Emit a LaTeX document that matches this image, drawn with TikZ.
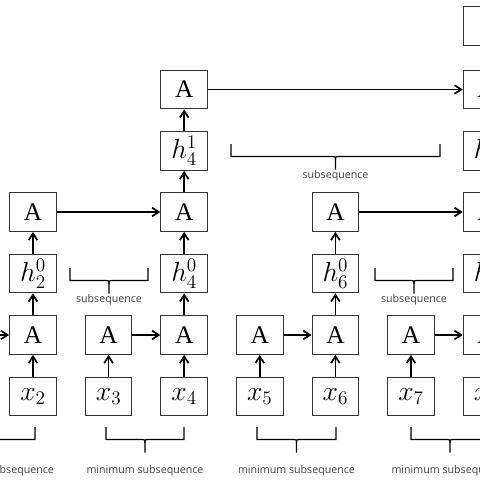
\documentclass[tikz,border=0pt]{standalone}
\usepackage{fontspec}
\setmainfont{Liberation Serif}
\newfontfamily\lblfont{Open Sans}
\usetikzlibrary{arrows.meta}
\tikzset{
  box/.style={rectangle, draw=black!80, line width=0.8pt, minimum width=35pt, minimum height=29pt, inner sep=0pt, font=\fontsize{19}{22}\selectfont},
  vbox/.style={box, font=\fontsize{21}{24}\selectfont},
  line/.style={-{Straight Barb[length=5pt,width=6.5pt]}, line width=1.3pt},
  brc/.style={line width=0.9pt},
  lbl/.style={font=\lblfont\fontsize{8}{10}\selectfont, text=black!75, inner sep=0pt, anchor=base}
}
% brace under a span: left x, right x, top y
\newcommand{\seqbrace}[3]{%
  \draw[brc] (#1,#3) |- ({(#1+#2)/2-3},#3+12.5) .. controls ({(#1+#2)/2},#3+12.5) .. ({(#1+#2)/2},#3+16) -- ({(#1+#2)/2},#3+25.5);
  \draw[brc] (#2,#3) |- ({(#1+#2)/2+3},#3+12.5) .. controls ({(#1+#2)/2},#3+12.5) .. ({(#1+#2)/2},#3+16);}

\begin{document}
\begin{tikzpicture}[x=0.75pt, y=-0.75pt]
  \clip (0,0) rectangle (480,480);
  % inputs and first layer
  \foreach \i in {1,...,8} {
    \node[vbox] (x\i) at ({33+75.6*(\i-2)},396.5) {$x_{\i}$};
    \node[box] (ao\i) at ({33+75.6*(\i-2)},335) {A};
    \draw[line] (x\i) -- (ao\i);
  }
  \foreach \i/\j in {1/2,3/4,5/6,7/8}
    \draw[line] (ao\i) -- (ao\j);
  % second layer
  \foreach \i in {2,4,6,8} {
    \node[vbox] (hz\i) at ({33+75.6*(\i-2)},273.5) {$h_{\i}^{0}$};
    \node[box] (at\i) at ({33+75.6*(\i-2)},212) {A};
    \draw[line] (ao\i) -- (hz\i);
    \draw[line] (hz\i) -- (at\i);
  }
  \foreach \i/\j in {2/4,6/8}
    \draw[line] (at\i) -- (at\j);
  % third layer
  \foreach \i in {4,8} {
    \node[vbox] (ho\i) at ({33+75.6*(\i-2)},151) {$h_{\i}^{1}$};
    \node[box] (ah\i) at ({33+75.6*(\i-2)},89.5) {A};
    \draw[line] (at\i) -- (ho\i);
    \draw[line] (ho\i) -- (ah\i);
  }
  \draw[line] (ah4) -- (ah8);
  \node[box] (top8) at (486.6,26) {};
  \draw[line] (ah8) -- (top8);
  % braces
  \seqbrace{-44}{35}{427}
  \seqbrace{106}{184}{427}
  \seqbrace{257}{336}{427}
  \seqbrace{411}{489}{427}
  \node[lbl] (min12) at (-4.5,473) {minimum subsequence};
  \node[lbl] (min34) at (145,473) {minimum subsequence};
  \node[lbl] (min56) at (296.5,473) {minimum subsequence};
  \node[lbl] (min78) at (450,473) {minimum subsequence};
  \seqbrace{70}{148}{268}
  \seqbrace{375}{453}{268}
  \node[lbl] (sub3) at (109,302.5) {subsequence};
  \node[lbl] (sub7) at (414,302.5) {subsequence};
  \seqbrace{231}{440}{144}
  \node[lbl] (sub6) at (335.5,178.5) {subsequence};
\end{tikzpicture}
\end{document}
